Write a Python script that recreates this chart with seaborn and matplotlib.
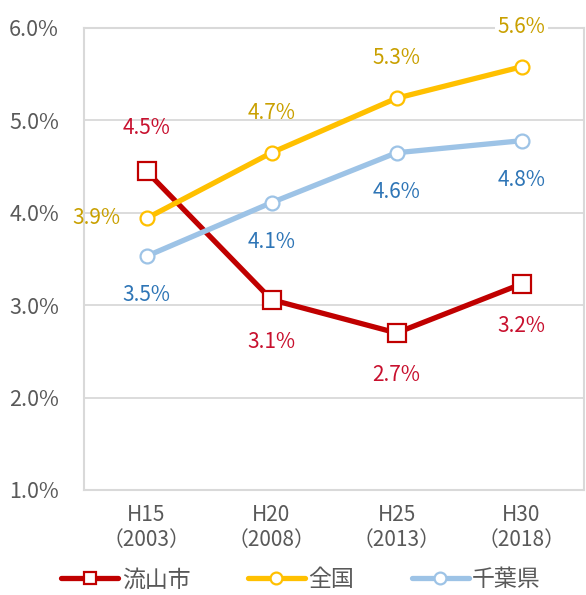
import matplotlib
matplotlib.use("Agg")
import matplotlib.pyplot as plt
import seaborn as sns
import pandas as pd
from matplotlib.lines import Line2D

categories = ["H15\n（2003）", "H20\n（2008）", "H25\n（2013）", "H30\n（2018）"]
nagareyama = [4.45, 3.06, 2.70, 3.23]
zenkoku = [3.94, 4.65, 5.24, 5.58]
chiba = [3.53, 4.11, 4.65, 4.78]
nagareyama_labels = ["4.5%", "3.1%", "2.7%", "3.2%"]
zenkoku_labels = ["3.9%", "4.7%", "5.3%", "5.6%"]
chiba_labels = ["3.5%", "4.1%", "4.6%", "4.8%"]
series_names = ["流山市", "全国", "千葉県"]
y_ticks = [1.0, 2.0, 3.0, 4.0, 5.0, 6.0]

sns.set_theme(style="white")
plt.rcParams['font.family'] = ['Noto Sans CJK JP', 'DejaVu Sans']

FS = 15
fig = plt.figure(figsize=(5.86, 5.95), dpi=100)
ax = fig.add_axes([84/586, 105/595, 500/586, 462/595])

x = list(range(len(categories)))
grid_c = "#D9D9D9"
ax.set_ylim(1.0, 6.0)
ax.set_xlim(-0.5, 3.5)
ax.set_yticks(y_ticks)
ax.yaxis.grid(True, color=grid_c, linewidth=1.3)
ax.set_axisbelow(True)
for s in ax.spines.values():
    s.set_color(grid_c)
    s.set_linewidth(1.5)

styles = [
    (nagareyama, nagareyama_labels, "#C00000", "s", 13, 9),
    (zenkoku, zenkoku_labels, "#FFC000", "o", 10, 8.5),
    (chiba, chiba_labels, "#9DC3E6", "o", 10, 8.5),
]

handles = []
for name, (vals, labs, col, mk, ms, lms) in zip(series_names, styles):
    df = pd.DataFrame({"x": x, "y": vals})
    sns.lineplot(data=df, x="x", y="y", ax=ax, color=col, linewidth=3.8,
                 marker=mk, markersize=ms, markerfacecolor="white",
                 markeredgecolor=col, markeredgewidth=1.6, zorder=3)
    handles.append(Line2D([], [], color=col, linewidth=3.8, marker=mk,
                          markersize=lms, markerfacecolor="white",
                          markeredgecolor=col, markeredgewidth=1.6))

def lab(xv, yv, text, dx, dy, color, box=False):
    kw = {}
    if box:
        kw["bbox"] = dict(boxstyle="square,pad=0.1", fc="white", ec="none")
    ax.annotate(text, (xv, yv), xytext=(dx*0.72, dy*0.72), textcoords="offset points",
                ha="center", va="center", color=color, fontsize=FS, zorder=5, **kw)

for i in range(4):
    lab(x[i], nagareyama[i], nagareyama_labels[i], 0, 43 if i == 0 else -42, "#C8102E")
for i in range(4):
    if i == 0:
        lab(x[i], zenkoku[i], zenkoku_labels[i], -50, 0, "#C9A000")
    else:
        lab(x[i], zenkoku[i], zenkoku_labels[i], 0, 40, "#C9A000", box=(i == 3))
for i in range(4):
    lab(x[i], chiba[i], chiba_labels[i], 0, -39, "#2E75B6")

ax.set_xticks(x)
ax.set_xticklabels(categories, fontsize=FS, color="#595959", linespacing=1.2)
ax.set_yticklabels([f"{v:.1f}%" for v in y_ticks], fontsize=FS + 0.5, color="#595959")
ax.tick_params(axis="both", length=0)
ax.tick_params(axis="y", pad=18)
ax.tick_params(axis="x", pad=10)
ax.set_xlabel("")
ax.set_ylabel("")

leg = fig.legend(handles, series_names, loc="center", bbox_to_anchor=(301/586, 1 - 580/595),
                 ncol=3, frameon=False, prop={"size": 16.5}, handlelength=2.5,
                 handletextpad=0.15, columnspacing=2.5, borderpad=0.0,
                 borderaxespad=0.0)
for t in leg.get_texts():
    t.set_color("#595959")

fig.savefig("out.png", dpi=100)
